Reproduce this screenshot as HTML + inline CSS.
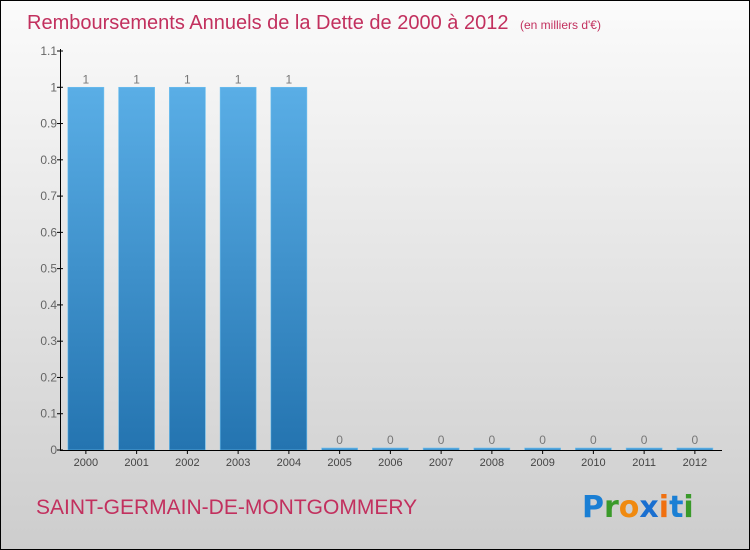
<!DOCTYPE html>
<html><head><meta charset="utf-8"><style>
html,body{margin:0;padding:0}
body{width:750px;height:550px;overflow:hidden;font-family:"Liberation Sans",sans-serif}
#wrap{position:absolute;left:0;top:0;width:748px;height:548px;border:1px solid #000;background:linear-gradient(#fbfbfb,#cdcdcd)}
</style></head><body>
<div id="wrap">
<svg id="chart" width="750" height="550" style="position:absolute;left:-1px;top:-1px">
<defs><linearGradient id="bg" x1="0" y1="0" x2="0" y2="1"><stop offset="0" stop-color="#5aaee6"/><stop offset="1" stop-color="#2474b0"/></linearGradient></defs>
<text x="27" y="29" font-size="20" fill="#c2305e">Remboursements Annuels de la Dette de 2000 à 2012 <tspan font-size="12" dx="6">(en milliers d'€)</tspan></text>
<g id="bars"></g>
<g id="axes"></g>
<text x="36" y="514" font-size="21" fill="#c2305e">SAINT-GERMAIN-DE-MONTGOMMERY</text>
<g font-size="30" font-weight="bold" font-family="DejaVu Sans, sans-serif">
<text x="582" y="517"><tspan fill="#1a7fd4">P</tspan><tspan fill="#3a9a2a">r</tspan><tspan fill="#f08a10">o</tspan><tspan fill="#1a6fd0">x</tspan><tspan fill="#f07010">i</tspan><tspan fill="#1a7fd4">t</tspan><tspan fill="#3a9a2a">i</tspan></text>
</g>
</svg>
</div>
<script>
const categories=["2000","2001","2002","2003","2004","2005","2006","2007","2008","2009","2010","2011","2012"];
const values=[1,1,1,1,1,0,0,0,0,0,0,0,0];
const valueLabels=["1","1","1","1","1","0","0","0","0","0","0","0","0"];
const yTicks=[0,0.1,0.2,0.3,0.4,0.5,0.6,0.7,0.8,0.9,1,1.1];
const yTickLabels=["0","0.1","0.2","0.3","0.4","0.5","0.6","0.7","0.8","0.9","1","1.1"];
const NS="http://www.w3.org/2000/svg";
const x0=60.5,band=50.75,barW=36,yBase=450,yMax=1.1,yTop=51;
const y=v=>yBase-(v/yMax)*(yBase-yTop);
const xc=i=>x0+band*(i+0.5);
function mk(t,a,p){const e=document.createElementNS(NS,t);for(const k in a)e.setAttribute(k,a[k]);p.appendChild(e);return e;}
const gb=document.getElementById('bars'),ga=document.getElementById('axes');
categories.forEach((c,i)=>{
  const top=Math.min(y(values[i]),yBase-2);
  const r=mk('rect',{x:xc(i)-barW/2,y:top,width:barW,height:yBase-top,fill:'url(#bg)',stroke:'#6cc0f0','stroke-width':0.6},gb);
  
  
  const t=mk('text',{x:xc(i),y:top-4,'font-size':12,fill:'#777','text-anchor':'middle'},gb);
  t.textContent=valueLabels[i];
  
  
  const xl=mk('text',{x:xc(i),y:466,'font-size':11,fill:'#444','text-anchor':'middle'},ga);
  xl.textContent=c;
  
  
  const tk=mk('line',{x1:xc(i),x2:xc(i),y1:yBase,y2:yBase+4,stroke:'#000'},ga);
  
  
});
yTicks.forEach((v,i)=>{
  const l=mk('line',{x1:57,x2:63,y1:y(v),y2:y(v),stroke:'#000'},ga);
  
  
  const t=mk('text',{x:57,y:y(v)+4,'font-size':12,fill:'#666','text-anchor':'end'},ga);
  t.textContent=yTickLabels[i];
  
  
});
const ya=mk('line',{x1:60.5,x2:60.5,y1:yTop-2,y2:yBase,stroke:'#000'},ga);


const xa=mk('line',{x1:60,x2:722,y1:yBase+0.5,y2:yBase+0.5,stroke:'#000'},ga);


</script>
</body></html>
